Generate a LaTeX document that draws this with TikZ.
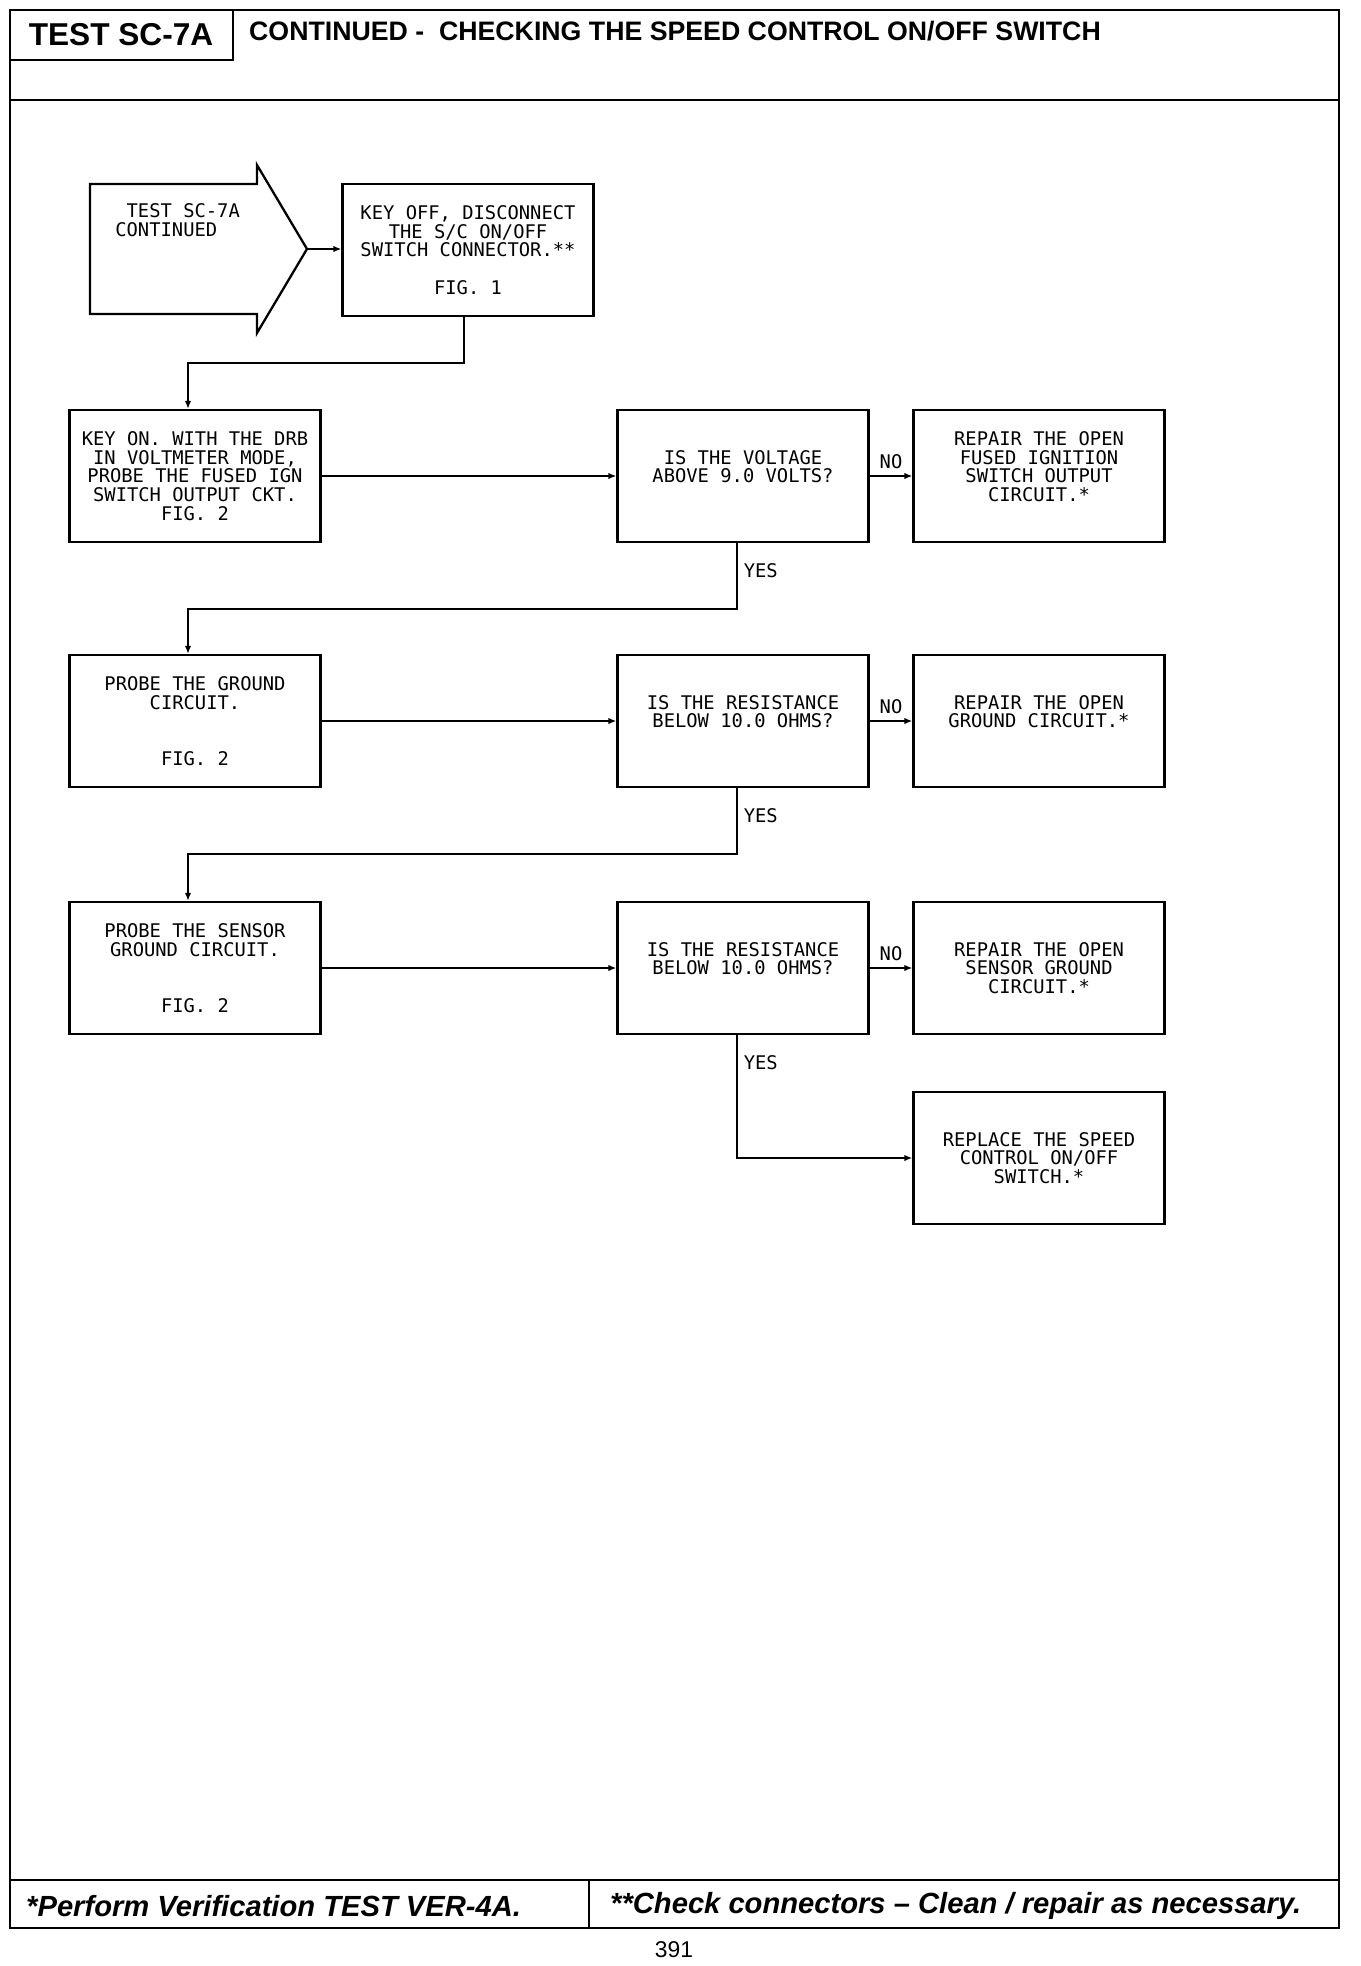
\documentclass[tikz,border=0pt]{standalone}
\usepackage{fontspec}
\setmainfont{Liberation Sans}
\newfontfamily\plotter{DejaVu Sans Mono}
\usetikzlibrary{arrows.meta}

\begin{document}
\begin{tikzpicture}[
    x=0.02cm,
    y=-0.02cm,
    every node/.style={font=\plotter\fontsize{10.7}{10.7}\selectfont},
    frame/.style={draw=black, line width=1.5pt},
    stepbox/.style={draw=black, line width=1.3pt, minimum width=5.02cm, minimum height=2.64cm, align=center, inner sep=0pt},
    link/.style={-{Latex[length=4.5pt, width=3.6pt]}, draw=black, line width=1.1pt},
    head/.style={font=\bfseries\fontsize{15.2}{17}\selectfont},
    foot/.style={font=\bfseries\itshape\fontsize{16.6}{18}\selectfont}
  ]
    \useasboundingbox (0,0) rectangle (1360,1966);

    \draw[frame] (10,10) rectangle (1339,1928);
    \draw[frame] (10,100) -- (1339,100);
    \draw[frame] (233,10) -- (233,60) -- (10,60);
    \draw[frame] (10,1880) -- (1339,1880);
    \draw[frame] (589,1880) -- (589,1928);
    \node[head, font=\bfseries\fontsize{18}{20}\selectfont] (testid) at (121,35) {TEST SC-7A};
    \node[head, anchor=west] (title) at (243,31) {CONTINUED -\ \ CHECKING THE SPEED CONTROL ON/OFF SWITCH};
    \node[foot, anchor=west] (note1) at (20,1906) {*Perform Verification TEST VER-4A.};
    \node[foot, anchor=west] (note2) at (604,1906) {**Check connectors \textendash\ Clean / repair as necessary.};
    \node[font=\fontsize{13}{15}\selectfont] (pageno) at (674,1950) {391};

    \draw[draw=black, line width=1.3pt] (90,184) -- (257,184) -- (257,165) -- (307,249)
      -- (257,333) -- (257,314) -- (90,314) -- cycle;
    \coordinate (entrytip) at (307,249);
    \node[align=left, anchor=west, inner sep=0pt] (entrytxt) at (115,220) {~TEST SC-7A\\CONTINUED};

    \node[stepbox] (keyoff) at (468,250) {KEY OFF, DISCONNECT\\THE S/C ON/OFF\\SWITCH CONNECTOR.**\\ ~\\FIG. 1};
    \node[stepbox] (drbprobe) at (195,476) {KEY ON. WITH THE DRB\\IN VOLTMETER MODE,\\PROBE THE FUSED IGN\\SWITCH OUTPUT CKT.\\FIG. 2};
    \node[stepbox] (volts) at (743,476) {IS THE VOLTAGE\\ABOVE 9.0 VOLTS?\\ ~};
    \node[stepbox] (fixign) at (1039,476) {REPAIR THE OPEN\\FUSED IGNITION\\SWITCH OUTPUT\\CIRCUIT.*\\ ~};

    \node[stepbox] (gndprobe) at (195,721) {PROBE THE GROUND\\CIRCUIT.\\ ~\\ ~\\FIG. 2};
    \node[stepbox] (gndohms) at (743,721) {IS THE RESISTANCE\\BELOW 10.0 OHMS?\\ ~};
    \node[stepbox] (fixgnd) at (1039,721) {REPAIR THE OPEN\\GROUND CIRCUIT.*\\ ~};

    \node[stepbox] (sensprobe) at (195,968) {PROBE THE SENSOR\\GROUND CIRCUIT.\\ ~\\ ~\\FIG. 2};
    \node[stepbox] (sensohms) at (743,968) {IS THE RESISTANCE\\BELOW 10.0 OHMS?\\ ~};
    \node[stepbox] (fixsens) at (1039,968) {REPAIR THE OPEN\\SENSOR GROUND\\CIRCUIT.*};

    \node[stepbox] (newswitch) at (1039,1158) {REPLACE THE SPEED\\CONTROL ON/OFF\\SWITCH.*};

    \draw[link] (entrytip) -- (entrytip -| keyoff.west);
    \draw[link] ([xshift=-0.08cm]keyoff.south) -- ++(0,46) -| ([xshift=-0.14cm]drbprobe.north);
    \draw[link] (drbprobe.east) -- (volts.west);
    \draw[link] (volts.east) -- node[above] {NO} (fixign.west);
    \draw[link] ([xshift=-0.12cm]volts.south) -- node[right, pos=0.42] {YES} ++(0,66) -| ([xshift=-0.14cm]gndprobe.north);
    \draw[link] (gndprobe.east) -- (gndohms.west);
    \draw[link] (gndohms.east) -- node[above] {NO} (fixgnd.west);
    \draw[link] ([xshift=-0.12cm]gndohms.south) -- node[right, pos=0.42] {YES} ++(0,66) -| ([xshift=-0.14cm]sensprobe.north);
    \draw[link] (sensprobe.east) -- (sensohms.west);
    \draw[link] (sensohms.east) -- node[above] {NO} (fixsens.west);
    \draw[link] ([xshift=-0.12cm]sensohms.south) |- node[right, pos=0.11] {YES} (newswitch.west);
  \end{tikzpicture}
\end{document}
